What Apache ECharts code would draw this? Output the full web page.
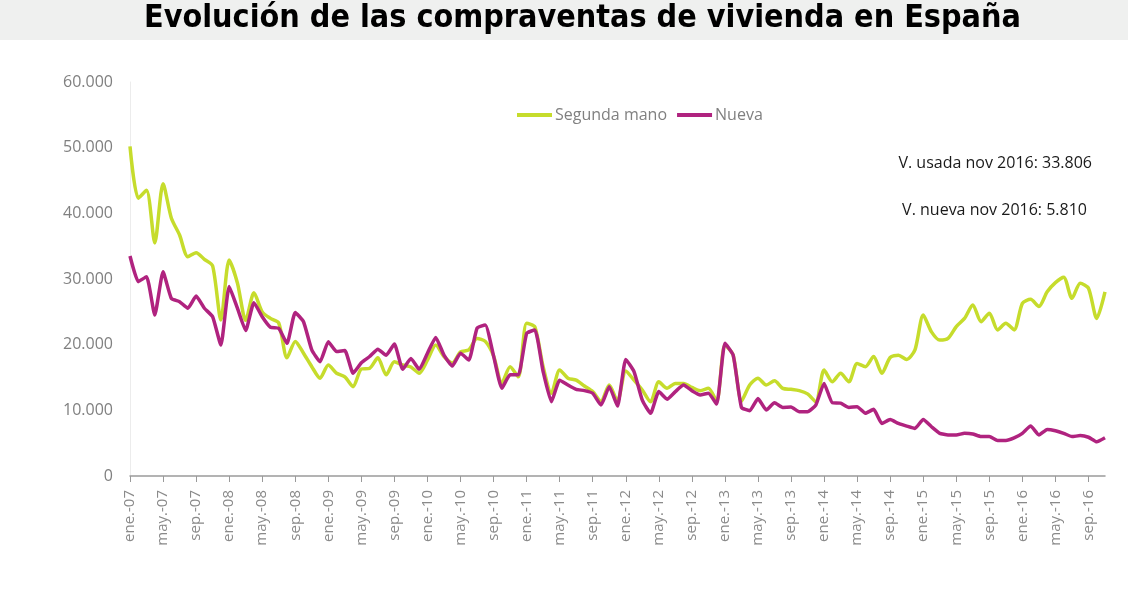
<!DOCTYPE html>
<html>
<head>
<meta charset="utf-8">
<script src="https://cdn.jsdelivr.net/npm/echarts@6/dist/echarts.min.js"></script>
<style>
html,body{margin:0;padding:0;background:#fff;}
#c{width:1128px;height:591px;}
</style>
</head>
<body>
<div id="c"></div>
<script>
const monthNames = ['ene.','feb.','mar.','abr.','may.','jun.','jul.','ago.','sep.','oct.','nov.','dic.'];
const years = ['07','08','09','10','11','12','13','14','15','16'];
const lastMonthIndex = 118; // nov-16

const segundaMano = [50200,42300,43500,35500,44500,39300,36700,33400,34000,33000,32000,23750,
32900,29400,23700,27900,25000,24000,23300,18000,20500,18700,16650,14900,
16900,15650,15100,13600,16300,16400,18000,15400,17400,16900,16600,15650,
17650,19950,18200,17200,18900,19200,20950,20500,18300,14150,16650,15100,
23250,22700,16650,12600,16150,14900,14600,13700,12850,11400,13850,11400,
16000,14600,13100,11300,14350,13350,14100,14100,13500,13000,13350,11400,
19950,18400,11400,13850,14900,13850,14500,13350,13200,13000,12500,11300,
16150,14350,15650,14350,17150,16650,18200,15650,18050,18400,17750,19200,
24500,21950,20700,20950,22750,24000,26050,23500,24800,22250,23250,22250,
26300,26900,25800,28050,29450,30250,27050,29350,28600,24000,28050];

const nueva = [33500,29600,30350,24500,31100,27050,26550,25550,27400,25550,24250,19950,
28850,25550,22150,26400,24250,22650,22500,20200,24900,23500,19200,17400,
20450,18950,19100,15650,17250,18200,19300,18400,20100,16250,17900,16250,
18700,21100,18400,16750,18700,17650,22500,23000,18300,13350,15400,15400,
21700,22250,15900,11300,14600,13850,13200,13000,12600,10800,13600,10650,
17750,15900,11550,9550,12850,11700,12850,13850,13000,12350,12600,10950,
20200,18400,10450,9950,11800,10050,11150,10450,10500,9800,9800,10800,
14100,11150,11100,10450,10550,9550,10150,8000,8600,8000,7600,7250,
8600,7500,6500,6250,6250,6500,6400,6000,6000,5400,5400,5800,
6500,7600,6250,7100,6900,6500,6000,6150,5900,5200,5810];

const yTicks = [0,10000,20000,30000,40000,50000,60000];

const categories = [];
years.forEach(y => monthNames.forEach(m => categories.push(m + '-' + y)));
categories.length = lastMonthIndex + 1;

function fmt(v){ return String(v).replace(/\B(?=(\d{3})+(?!\d))/g,'.'); }

const chart = echarts.init(document.getElementById('c'));
chart.setOption({
  backgroundColor:'#fff',
  animation:false,
  graphic:[
    {type:'rect', left:0, top:0, shape:{width:1128,height:40}, style:{fill:'#eff0ef'}, z:-10},
    {type:'text', left:144, top:3, style:{text:'Evolución de las compraventas de vivienda en España',
      font:'bold 32px "Liberation Sans Narrow","DejaVu Sans Condensed",sans-serif', fill:'#000'}},
    {type:'text', right:36, top:155, style:{text:'V. usada nov 2016: 33.806',
      font:'16px "Open Sans",sans-serif', fill:'#1a1a1a'}},
    {type:'text', right:41, top:202, style:{text:'V. nueva nov 2016: 5.810',
      font:'16px "Open Sans",sans-serif', fill:'#1a1a1a'}}
  ],
  legend:{
    data:['Segunda mano','Nueva'],
    top:102, left:512,
    icon:'rect', itemWidth:35, itemHeight:4, itemGap:10,
    textStyle:{color:'#808080', fontSize:16, fontFamily:'"Open Sans",sans-serif', padding:[0,0,0,-2]}
  },
  grid:{left:130, right:23, top:82, bottom:115, containLabel:false},
  xAxis:{
    type:'category', data:categories, boundaryGap:false,
    axisLine:{show:true, lineStyle:{color:'#9a9a9a', width:1.5}},
    axisTick:{show:true, interval:3, length:6, lineStyle:{color:'#9a9a9a'}},
    axisLabel:{interval:3, rotate:90, color:'#8a8a8a', fontSize:15, margin:14,
      fontFamily:'"Open Sans",sans-serif'},
    splitLine:{show:false}
  },
  yAxis:{
    type:'value', min:yTicks[0], max:yTicks[yTicks.length-1], interval:10000,
    axisLine:{show:true, lineStyle:{color:'#ececec', width:1}},
    axisTick:{show:false},
    splitLine:{show:false},
    axisLabel:{color:'#808080', fontSize:16, margin:17, fontFamily:'"Open Sans",sans-serif',
      formatter:v => fmt(v)}
  },
  series:[
    {name:'Segunda mano', type:'line', data:segundaMano, smooth:0.25, showSymbol:false,
      lineStyle:{color:'#c6dc2c', width:3.5}, itemStyle:{color:'#c6dc2c'}, z:2},
    {name:'Nueva', type:'line', data:nueva, smooth:0.15, showSymbol:false,
      lineStyle:{color:'#b0237f', width:3.5}, itemStyle:{color:'#b0237f'}, z:3}
  ]
});
</script>
</body>
</html>
